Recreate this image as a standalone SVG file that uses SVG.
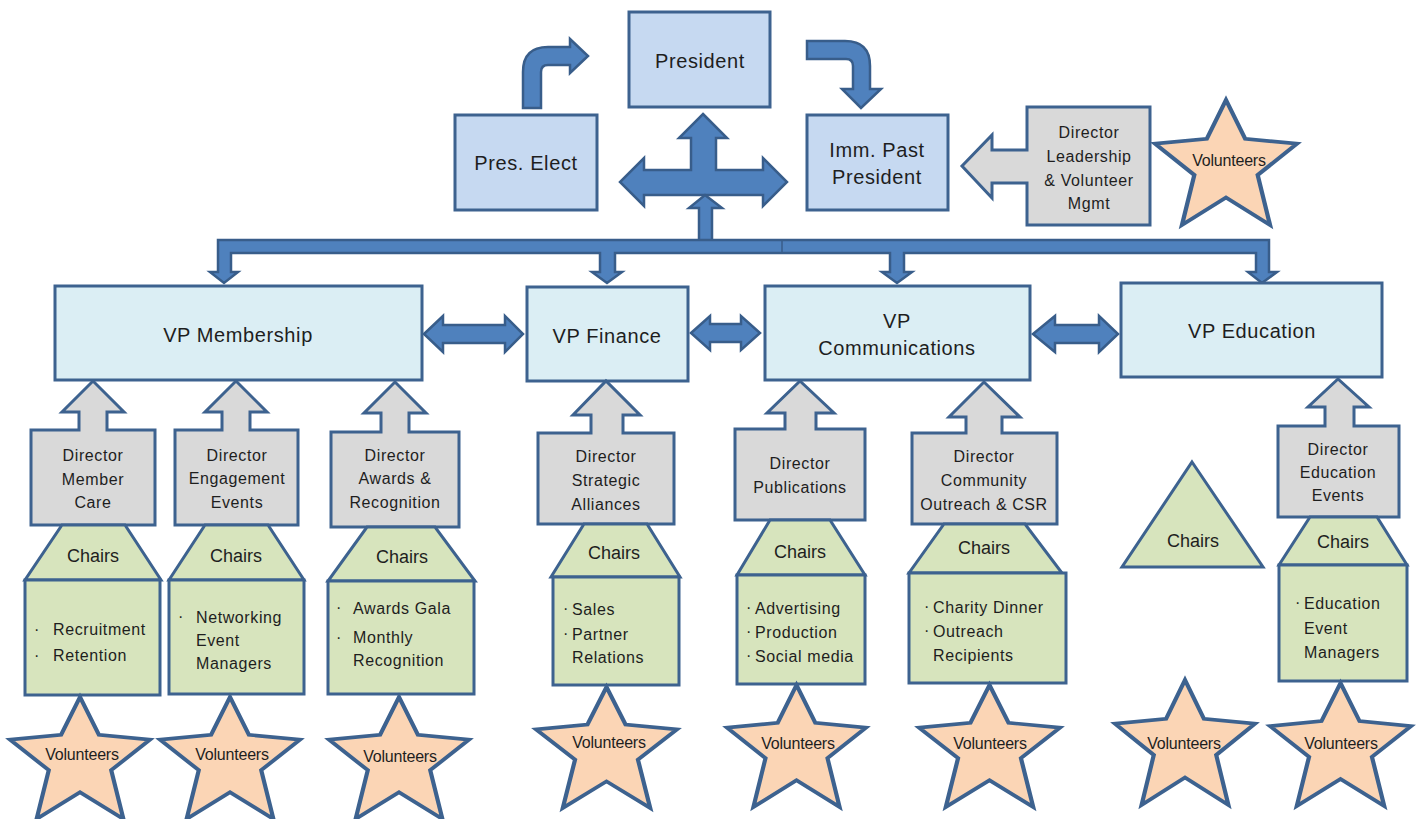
<svg xmlns="http://www.w3.org/2000/svg" width="1418" height="819" viewBox="0 0 1418 819">
<style>
.top{fill:#c6d9f1;stroke:#3d628f;stroke-width:3}
.vp{fill:#dbeef4;stroke:#3d628f;stroke-width:3}
.dir{fill:#d9d9d9;stroke:#3d628f;stroke-width:3;stroke-linejoin:miter}
.ch{fill:#d7e4bd;stroke:#3d628f;stroke-width:3;stroke-linejoin:miter}
.star{fill:#fbd5b5;stroke:#3d628f;stroke-width:3;stroke-linejoin:miter}
.arr{fill:#4f81bd;stroke:#385d8a;stroke-width:2.5;stroke-linejoin:miter}
text{font-family:"Liberation Sans",Arial,sans-serif;fill:#1e1e1e}
.big{font-size:20px;letter-spacing:0.6px;text-anchor:middle}
.md{font-size:16px;letter-spacing:0.6px;text-anchor:middle}
.li{font-size:16px;letter-spacing:0.6px}
.cs{font-size:18px;text-anchor:middle}
.vo{font-size:16px;text-anchor:middle;letter-spacing:-0.2px}
</style>
<defs>
<polygon id="starp" points="50,0 63.5,31 100,35 72.3,60 81,100 50,78 19,100 27.7,60 0,35 36.5,31"/>
</defs>

<g id="connectors">
<path class="arr" d="M523 108 L523 72 Q523 47 548 47 L570 47 L570 39 L588 56 L570 73 L570 65 L548 65 Q541 65 541 72 L541 108 Z"/>
<path class="arr" d="M807 41 L845 41 Q870 41 870 66 L870 89 L881 89 L861 108 L842 89 L853 89 L853 66 Q853 59 846 59 L807 59 Z"/>
<path class="arr" d="M703 114 L727 138 L716 138 L716 170 L763 170 L763 158 L787 182 L763 206 L763 195 L644 195 L644 206 L620 182 L644 158 L644 170 L691 170 L691 138 L679 138 Z"/>
<path class="arr" d="M705 195 L722 208 L712 208 L712 242 L699 242 L699 208 L689 208 Z"/>
<path class="arr" d="M218 240 L1269 240 L1269 272 L1277 272 L1262 283 L1248 272 L1256 272 L1256 253 L904 253 L904 272 L912 272 L897 283 L882 272 L890 272 L890 253 L615 253 L615 272 L622 272 L607 283 L592 272 L600 272 L600 253 L231 253 L231 272 L238 272 L224 283 L210 272 L218 272 Z"/>
<line x1="782" y1="241" x2="782" y2="252" stroke="#385d8a" stroke-width="1.5"/>
<path class="arr" d="M424 334 L443 316 L443 325 L505 325 L505 316 L523 334 L505 352 L505 343 L443 343 L443 352 Z"/>
<path class="arr" d="M691 333 L710 316 L710 324 L741 324 L741 316 L760 333 L741 350 L741 342 L710 342 L710 350 Z"/>
<path class="arr" d="M1033 334 L1055 316 L1055 325 L1099 325 L1099 316 L1118 334 L1099 352 L1099 343 L1055 343 L1055 352 Z"/>
</g>

<g id="president">
<rect class="top" x="629" y="12" width="141" height="95"/>
<text class="big" x="700" y="68">President</text>
</g>
<g id="pres-elect">
<rect class="top" x="455" y="115" width="142" height="95"/>
<text class="big" x="526" y="170">Pres. Elect</text>
</g>
<g id="imm-past-president">
<rect class="top" x="807" y="115" width="141" height="95"/>
<text class="big" x="877" y="157">Imm. Past</text>
<text class="big" x="877" y="184">President</text>
</g>
<g id="director-leadership">
<path class="dir" d="M1027 107 L1150 107 L1150 225 L1027 225 L1027 183 L992 183 L992 198 L962 166 L992 135 L992 150 L1027 150 Z"/>
<text class="md" x="1089" y="138">Director</text>
<text class="md" x="1089" y="162">Leadership</text>
<text class="md" x="1089" y="186">&amp; Volunteer</text>
<text class="md" x="1089" y="209">Mgmt</text>
</g>
<g id="volunteers-top">
<use href="#starp" class="star" transform="translate(1155,100) scale(1.42,1.25)" style="vector-effect:non-scaling-stroke"/>
<text class="vo" x="1229" y="166">Volunteers</text>
</g>

<g id="vp-membership">
<rect class="vp" x="55" y="286" width="367" height="94"/>
<text class="big" x="238" y="342">VP Membership</text>
</g>
<g id="vp-finance">
<rect class="vp" x="527" y="287" width="161" height="94"/>
<text class="big" x="607" y="343">VP Finance</text>
</g>
<g id="vp-communications">
<rect class="vp" x="765" y="286" width="265" height="94"/>
<text class="big" x="897" y="328">VP</text>
<text class="big" x="897" y="355">Communications</text>
</g>
<g id="vp-education">
<rect class="vp" x="1121" y="283" width="261" height="94"/>
<text class="big" x="1252" y="338">VP Education</text>
</g>

<!-- Member Care column -->
<g id="dir-member-care">
<path class="dir" d="M31 430 L79 430 L79 412 L62 412 L93 381 L124 412 L107 412 L107 430 L155 430 L155 525 L31 525 Z"/>
<text class="md" x="93" y="461">Director</text>
<text class="md" x="93" y="485">Member</text>
<text class="md" x="93" y="508">Care</text>
</g>
<g id="chairs-member-care">
<polygon class="ch" points="62,525 125,525 161,580 25,580"/>
<text class="cs" x="93" y="562">Chairs</text>
</g>
<g id="list-member-care">
<rect class="ch" x="25" y="580" width="135" height="115"/>
<text class="li" x="34" y="635">·</text><text class="li" x="53" y="635">Recruitment</text>
<text class="li" x="34" y="661">·</text><text class="li" x="53" y="661">Retention</text>
</g>
<g id="vol-1">
<use href="#starp" class="star" transform="translate(10,697) scale(1.40,1.22)" style="vector-effect:non-scaling-stroke"/>
<text class="vo" x="82" y="760">Volunteers</text>
</g>

<!-- Engagement column -->
<g id="dir-engagement">
<path class="dir" d="M175 430 L222 430 L222 412 L205 412 L236 381 L267 412 L250 412 L250 430 L298 430 L298 525 L175 525 Z"/>
<text class="md" x="237" y="461">Director</text>
<text class="md" x="237" y="484">Engagement</text>
<text class="md" x="237" y="508">Events</text>
</g>
<g id="chairs-engagement">
<polygon class="ch" points="205,525 268,525 304,580 169,580"/>
<text class="cs" x="236" y="562">Chairs</text>
</g>
<g id="list-engagement">
<rect class="ch" x="169" y="580" width="135" height="114"/>
<text class="li" x="178" y="622">·</text><text class="li" x="196" y="623">Networking</text>
<text class="li" x="196" y="646">Event</text>
<text class="li" x="196" y="669">Managers</text>
</g>
<g id="vol-2">
<use href="#starp" class="star" transform="translate(160,697) scale(1.40,1.22)" style="vector-effect:non-scaling-stroke"/>
<text class="vo" x="232" y="760">Volunteers</text>
</g>

<!-- Awards column -->
<g id="dir-awards">
<path class="dir" d="M331 432 L381 432 L381 413 L364 413 L395 382 L426 413 L409 413 L409 432 L459 432 L459 527 L331 527 Z"/>
<text class="md" x="395" y="461">Director</text>
<text class="md" x="395" y="484">Awards &amp;</text>
<text class="md" x="395" y="508">Recognition</text>
</g>
<g id="chairs-awards">
<polygon class="ch" points="367,527 435,527 475,581 328,581"/>
<text class="cs" x="402" y="563">Chairs</text>
</g>
<g id="list-awards">
<rect class="ch" x="328" y="581" width="146" height="113"/>
<text class="li" x="336" y="613">·</text><text class="li" x="353" y="614">Awards Gala</text>
<text class="li" x="336" y="643">·</text><text class="li" x="353" y="643">Monthly</text>
<text class="li" x="353" y="666">Recognition</text>
</g>
<g id="vol-3">
<use href="#starp" class="star" transform="translate(329,697) scale(1.40,1.22)" style="vector-effect:non-scaling-stroke"/>
<text class="vo" x="400" y="762">Volunteers</text>
</g>

<!-- Strategic Alliances column -->
<g id="dir-strategic">
<path class="dir" d="M538 433 L591 433 L591 415 L573 415 L606 381 L640 415 L623 415 L623 433 L674 433 L674 524 L538 524 Z"/>
<text class="md" x="606" y="462">Director</text>
<text class="md" x="606" y="486">Strategic</text>
<text class="md" x="606" y="510">Alliances</text>
</g>
<g id="chairs-strategic">
<polygon class="ch" points="584,524 647,524 680,577 551,577"/>
<text class="cs" x="614" y="559">Chairs</text>
</g>
<g id="list-strategic">
<rect class="ch" x="553" y="577" width="126" height="108"/>
<text class="li" x="563" y="614">·</text><text class="li" x="572" y="615">Sales</text>
<text class="li" x="563" y="639">·</text><text class="li" x="572" y="640">Partner</text>
<text class="li" x="572" y="663">Relations</text>
</g>
<g id="vol-4">
<use href="#starp" class="star" transform="translate(536,687) scale(1.41,1.21)" style="vector-effect:non-scaling-stroke"/>
<text class="vo" x="609" y="748">Volunteers</text>
</g>

<!-- Publications column -->
<g id="dir-publications">
<path class="dir" d="M735 429 L785 429 L785 413 L767 413 L800 381 L834 413 L816 413 L816 429 L865 429 L865 520 L735 520 Z"/>
<text class="md" x="800" y="469">Director</text>
<text class="md" x="800" y="493">Publications</text>
</g>
<g id="chairs-publications">
<polygon class="ch" points="770,520 830,520 865,575 737,575"/>
<text class="cs" x="800" y="558">Chairs</text>
</g>
<g id="list-publications">
<rect class="ch" x="737" y="575" width="128" height="109"/>
<text class="li" x="746" y="613">·</text><text class="li" x="755" y="614">Advertising</text>
<text class="li" x="746" y="637">·</text><text class="li" x="755" y="638">Production</text>
<text class="li" x="746" y="661">·</text><text class="li" x="755" y="662">Social media</text>
</g>
<g id="vol-5">
<use href="#starp" class="star" transform="translate(727,685) scale(1.39,1.22)" style="vector-effect:non-scaling-stroke"/>
<text class="vo" x="798" y="749">Volunteers</text>
</g>

<!-- Community column -->
<g id="dir-community">
<path class="dir" d="M912 433 L966 433 L966 417 L949 417 L984 382 L1020 417 L1002 417 L1002 433 L1057 433 L1057 524 L912 524 Z"/>
<text class="md" x="984" y="462">Director</text>
<text class="md" x="984" y="486">Community</text>
<text class="md" x="984" y="510">Outreach &amp; CSR</text>
</g>
<g id="chairs-community">
<polygon class="ch" points="944,524 1025,524 1062,573 909,573"/>
<text class="cs" x="984" y="554">Chairs</text>
</g>
<g id="list-community">
<rect class="ch" x="909" y="573" width="157" height="110"/>
<text class="li" x="924" y="612">·</text><text class="li" x="933" y="613">Charity Dinner</text>
<text class="li" x="924" y="636">·</text><text class="li" x="933" y="637">Outreach</text>
<text class="li" x="933" y="661">Recipients</text>
</g>
<g id="vol-6">
<use href="#starp" class="star" transform="translate(919,685) scale(1.41,1.22)" style="vector-effect:non-scaling-stroke"/>
<text class="vo" x="990" y="749">Volunteers</text>
</g>

<!-- Standalone chairs + volunteers -->
<g id="chairs-standalone">
<polygon class="ch" points="1192,462 1263,567 1122,567"/>
<text class="cs" x="1193" y="547">Chairs</text>
</g>
<g id="vol-7">
<use href="#starp" class="star" transform="translate(1115,680) scale(1.40,1.25)" style="vector-effect:non-scaling-stroke"/>
<text class="vo" x="1184" y="749">Volunteers</text>
</g>

<!-- Education column -->
<g id="dir-education">
<path class="dir" d="M1278 426 L1325 426 L1325 407 L1308 407 L1338 379 L1369 407 L1354 407 L1354 426 L1399 426 L1399 517 L1278 517 Z"/>
<text class="md" x="1338" y="455">Director</text>
<text class="md" x="1338" y="478">Education</text>
<text class="md" x="1338" y="501">Events</text>
</g>
<g id="chairs-education">
<polygon class="ch" points="1310,517 1377,517 1407,565 1279,565"/>
<text class="cs" x="1343" y="548">Chairs</text>
</g>
<g id="list-education">
<rect class="ch" x="1279" y="565" width="128" height="116"/>
<text class="li" x="1295" y="608">·</text><text class="li" x="1304" y="609">Education</text>
<text class="li" x="1304" y="634">Event</text>
<text class="li" x="1304" y="658">Managers</text>
</g>
<g id="vol-8">
<use href="#starp" class="star" transform="translate(1270,683) scale(1.41,1.23)" style="vector-effect:non-scaling-stroke"/>
<text class="vo" x="1341" y="749">Volunteers</text>
</g>
</svg>
